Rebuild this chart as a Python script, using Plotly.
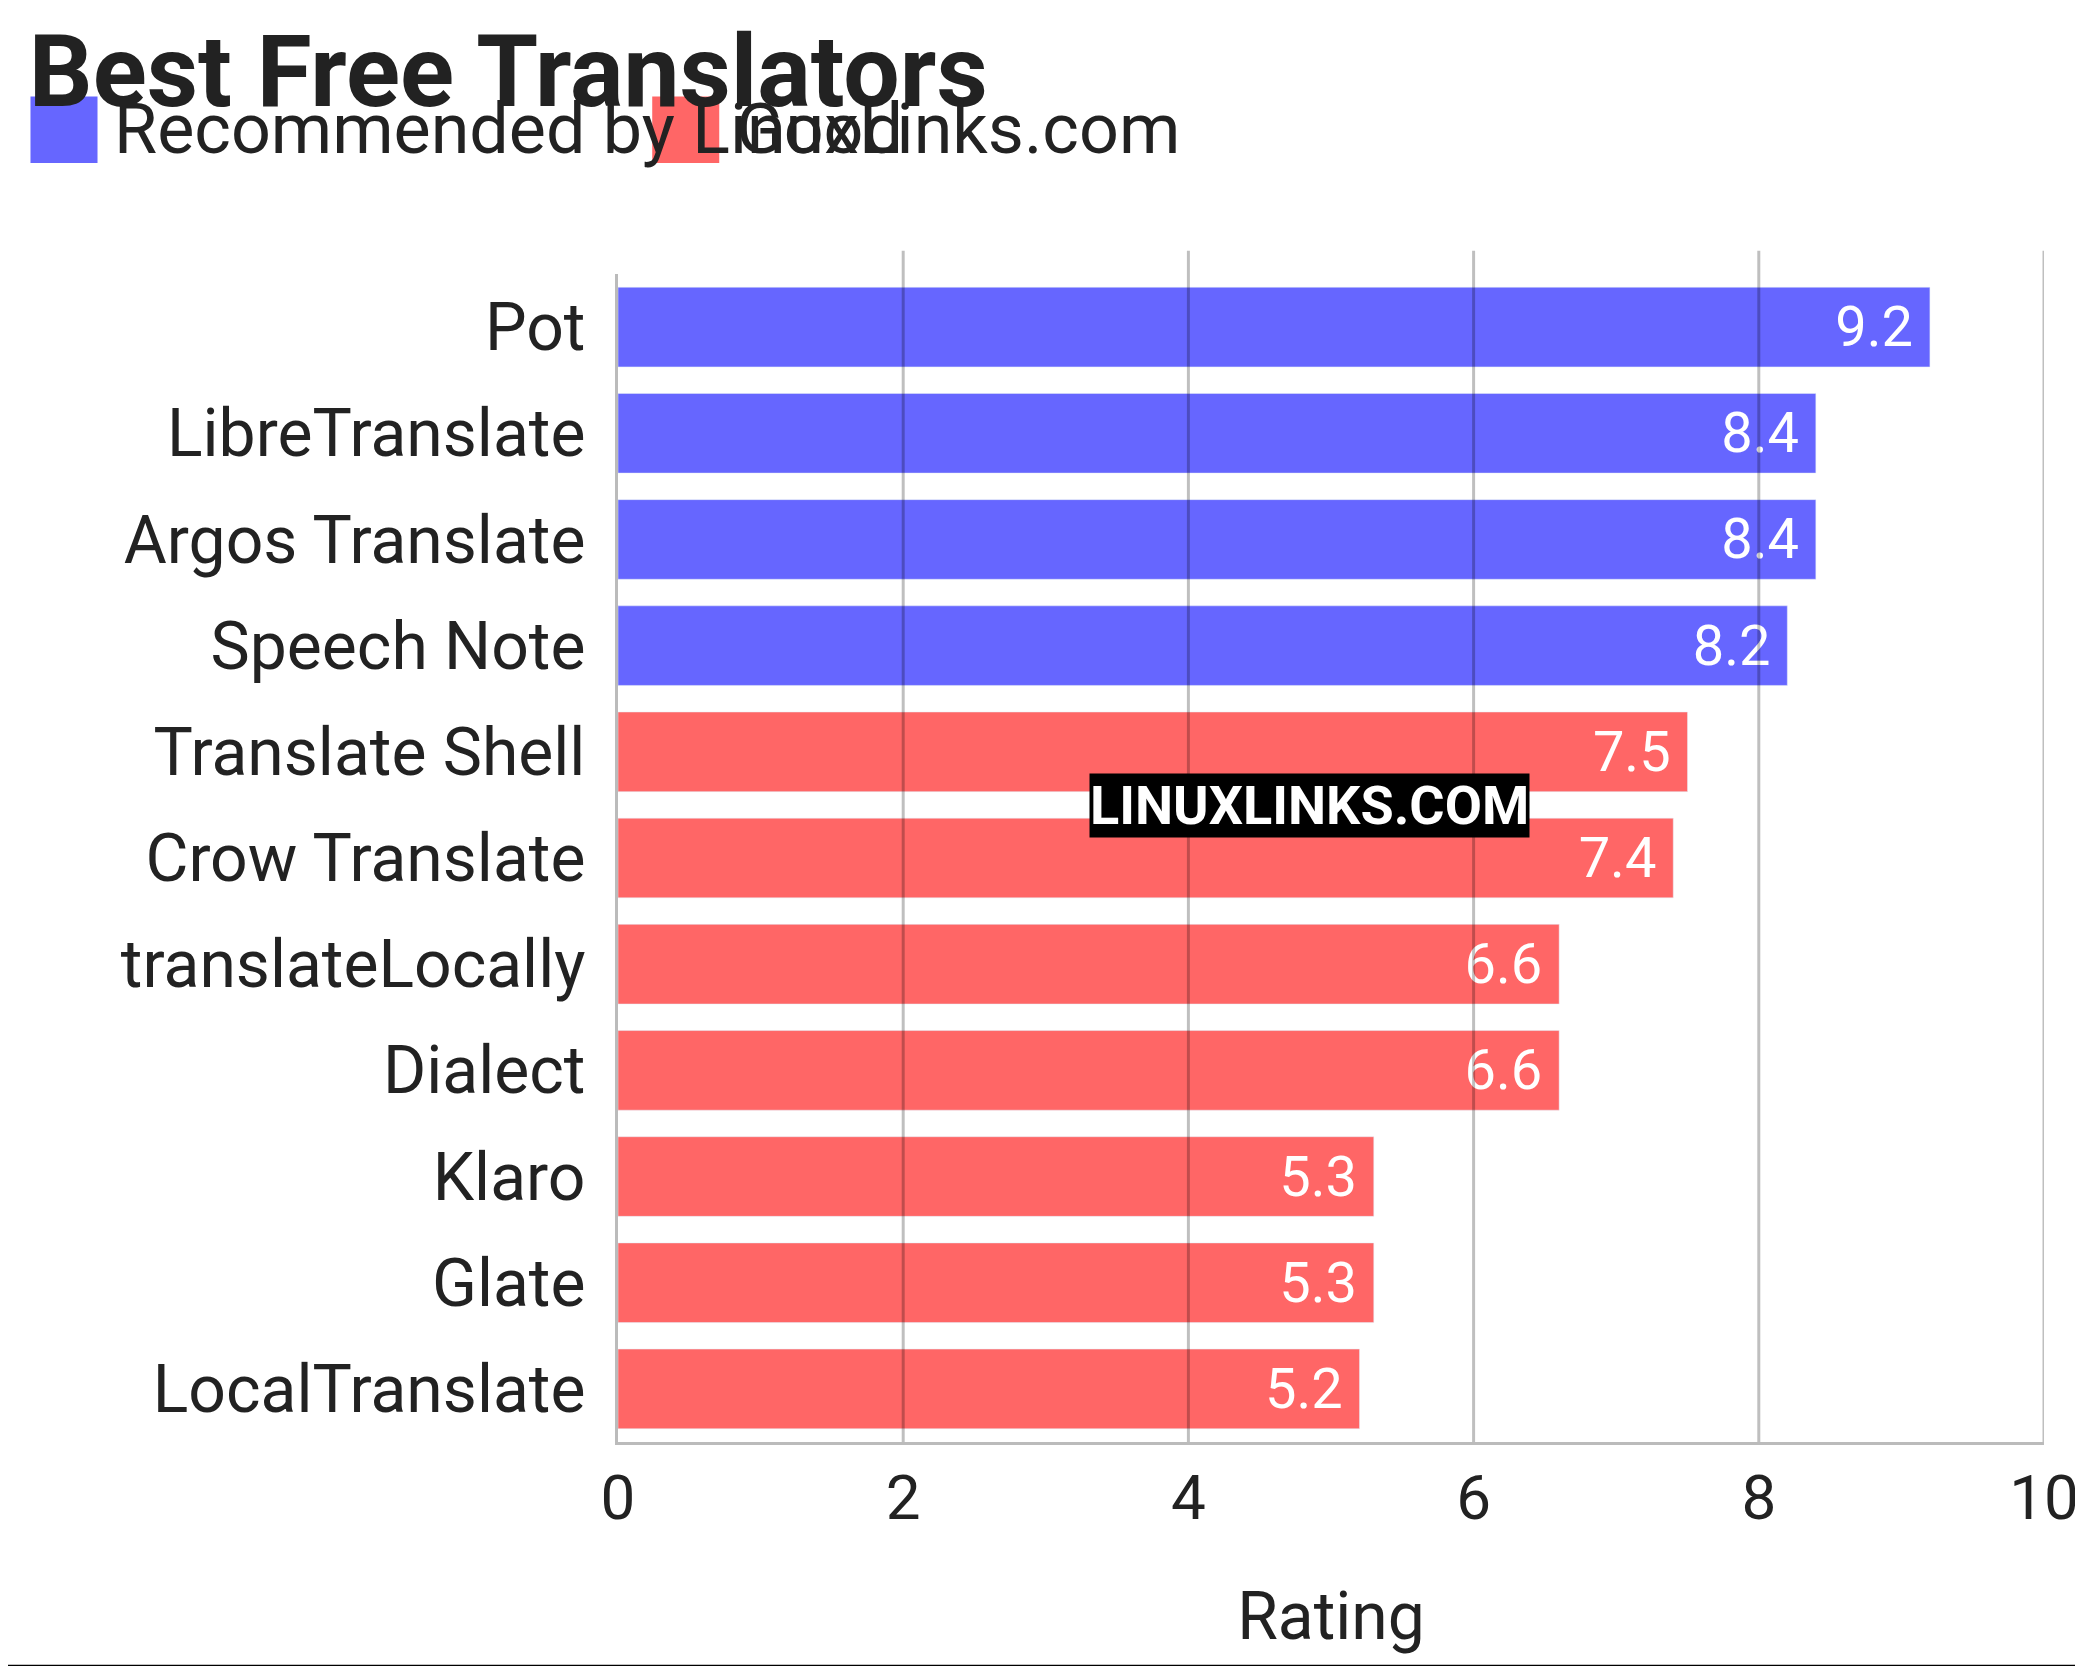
import plotly.graph_objects as go

rec_names = ["Pot", "LibreTranslate", "Argos Translate", "Speech Note"]
rec_vals = [9.2, 8.4, 8.4, 8.2]
good_names = ["Translate Shell", "Crow Translate", "translateLocally", "Dialect",
              "Klaro", "Glate", "LocalTranslate"]
good_vals = [7.5, 7.4, 6.6, 6.6, 5.3, 5.3, 5.2]
order = rec_names + good_names
ticks = [0, 2, 4, 6, 8, 10]

F = "Roboto"
BLUE, RED = "#6666ff", "#ff6666"
fig = go.Figure()
for names, vals, col, lab in [(rec_names, rec_vals, BLUE, "Recommended by LinuxLinks.com"),
                              (good_names, good_vals, RED, "Good")]:
    fig.add_trace(go.Bar(y=names, x=vals, orientation="h", name=lab, marker_color=col,
                         text=[f"{v:.1f} " for v in vals], textposition="inside",
                         insidetextanchor="end", textfont=dict(color="white", size=56, family=F),
                         width=0.75, showlegend=False))
fig.update_layout(
    width=2083, height=1666, barmode="overlay", plot_bgcolor="white", paper_bgcolor="white",
    margin=dict(l=610, r=38, t=266, b=232),
    font=dict(family=F, color="#222", size=60),
    title=dict(text="<b>Best Free Translators</b>", x=0.01, xanchor="left", y=0.962, yanchor="middle",
               font=dict(size=100, family=F, color="#222")),
    uniformtext=dict(minsize=40, mode="show"),
)
fig.update_xaxes(range=[0, 10], tickvals=ticks, showgrid=False,
                 showline=True, linecolor="#bbb", linewidth=3,
                 title=dict(text="Rating", font=dict(size=66), standoff=60), tickfont=dict(size=62),
                 zeroline=False)
fig.update_yaxes(categoryorder="array", categoryarray=order[::-1], tickfont=dict(size=66),
                 showline=True, linecolor="#bbb", linewidth=3, ticksuffix=" ")
for t in ticks[1:]:
    fig.add_shape(type="line", xref="x", yref="paper", x0=t, x1=t, y0=0, y1=1.02,
                  line=dict(color="rgba(0,0,0,0.25)", width=3), layer="above")
# legend
for x0, col, lab in [(0.013, BLUE, "Recommended by LinuxLinks.com"), (0.449, RED, "Good")]:
    fig.add_shape(type="rect", xref="paper", yref="paper", xsizemode="pixel", ysizemode="pixel",
                  xanchor=0, yanchor=0, x0=0, x1=0, y0=0, y1=0, visible=False)
    fig.add_shape(type="rect", xref="paper", yref="paper",
                  x0=-0.425 + x0 * 1.45 * 0 + x0, x1=-0.425 + x0 + 0.047, y0=1.095, y1=1.152,
                  fillcolor=col, line_width=0)
    fig.add_annotation(text=lab, x=-0.425 + x0 + 0.057, y=1.124, xref="paper", yref="paper",
                       xanchor="left", yanchor="middle", showarrow=False, font=dict(size=70))
fig.add_annotation(text="<b>LINUXLINKS.COM</b>", x=0.33, y=0.545, xref="x domain", yref="paper",
                   showarrow=False, font=dict(size=54, color="white", family=F), bgcolor="black",
                   borderpad=0)
fig.add_shape(type="line", xref="paper", yref="paper", x0=-0.45, x1=1.05, y0=-0.192, y1=-0.192,
              line=dict(color="black", width=3))
fig.write_html("out.html")
